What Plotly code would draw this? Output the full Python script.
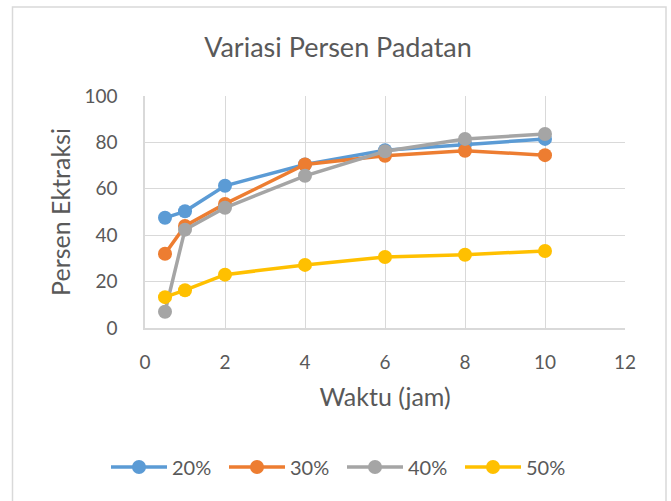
import plotly.graph_objects as go

waktu = [0.5, 1, 2, 4, 6, 8, 10]
s20 = [47.5, 50.3, 61.3, 70.5, 76.6, 79.2, 81.5]
s30 = [32.0, 44.0, 53.5, 70.5, 74.2, 76.4, 74.5]
s40 = [7.0, 42.4, 51.8, 65.6, 76.2, 81.5, 83.6]
s50 = [13.3, 16.3, 23.0, 27.2, 30.6, 31.6, 33.2]
names = ["20%", "30%", "40%", "50%"]
colors = ["#5B9BD5", "#ED7D31", "#A5A5A5", "#FFC000"]

W, H = 671, 501
L, R, T, B = 145, 625, 96, 328

fig = go.Figure()
for n, ys, c in zip(names, [s20, s30, s40, s50], colors):
    fig.add_trace(go.Scatter(
        x=waktu, y=ys, name=n, mode="lines+markers",
        line=dict(color=c, width=3.5),
        marker=dict(color=c, size=14),
    ))

font = "Lato, 'Noto Sans', sans-serif"
txt = "#595959"
grid = "#D9D9D9"

fig.update_layout(
    width=W, height=H,
    margin=dict(l=L, r=W - R, t=T, b=H - B, pad=0),
    paper_bgcolor="white", plot_bgcolor="white",
    font=dict(family=font, color=txt, size=19),
    title=dict(text="Variasi Persen Padatan", x=338 / W, xanchor="center",
               xref="container", y=1 - 48 / H, yanchor="middle", yref="container",
               font=dict(size=27, color=txt, family=font)),
    xaxis=dict(range=[0, 12], dtick=2, tick0=0, showgrid=True, gridcolor=grid, gridwidth=1.3,
               showline=True, linecolor=grid, linewidth=1.5, zeroline=False,
               ticks="", ticklabelstandoff=16,
               tickfont=dict(size=19, color=txt),
               title=dict(text="Waktu (jam)", font=dict(size=25, color=txt), standoff=17)),
    yaxis=dict(range=[0, 100], dtick=20, tick0=0, showgrid=True, gridcolor=grid, gridwidth=1.3,
               showline=True, linecolor=grid, linewidth=1.5, zeroline=False,
               ticks="", ticklabelstandoff=22,
               tickfont=dict(size=19, color=txt),
               title=dict(text="Persen Ektraksi", font=dict(size=25, color=txt), standoff=7)),
    legend=dict(orientation="h", x=342 / W, xanchor="center", xref="container",
                y=1 - 467 / H, yanchor="middle", yref="container",
                font=dict(size=20, color=txt), itemwidth=56,
                entrywidth=47, entrywidthmode="pixels", bgcolor="rgba(0,0,0,0)"),
    showlegend=True,
)

fig.add_shape(type="rect", xref="paper", yref="paper",
              x0=(12.5 - L) / (R - L), x1=(666 - L) / (R - L),
              y0=(B - 520) / (B - T), y1=(B - 7) / (B - T),
              line=dict(color="#D9D9D9", width=1.5), fillcolor="rgba(0,0,0,0)", layer="below")

fig.write_html("out.html", post_script="document.body.style.margin='0';",
               config={"displayModeBar": False})
